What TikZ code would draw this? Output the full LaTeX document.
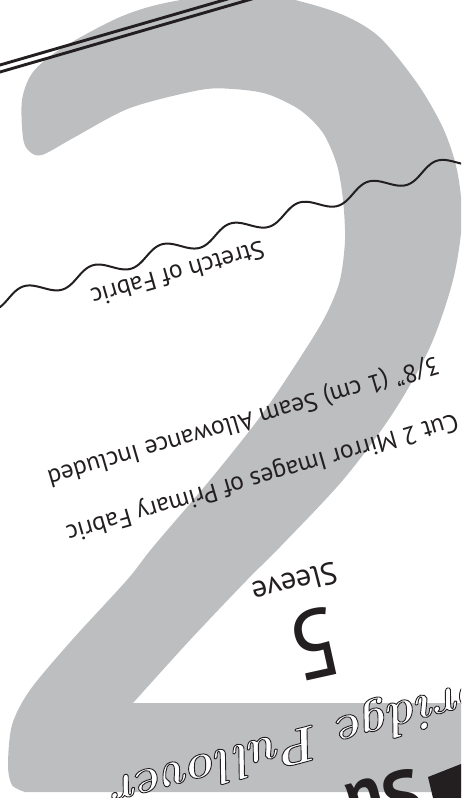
\documentclass[tikz,border=0pt]{standalone}
\usepackage{fontspec}
\newfontfamily\ptsans{PT Sans}
\definecolor{grey2}{RGB}{188,190,192}
\definecolor{ink}{RGB}{35,31,32}
\tikzset{
  lbl/.style={text=ink, inner sep=0pt, font=\ptsans\fontsize{25.5}{25.5}\selectfont},
  dline/.style={draw=ink, line width=2.9pt},
  wave/.style={draw=ink, line width=2pt},
}
\begin{document}
\begin{tikzpicture}[x=1pt,y=-1pt]
\useasboundingbox (0,0) rectangle (461,798);
\clip (0,0) rectangle (461,798);
% big grey numeral
\fill[grey2] plot[smooth, tension=0.5] coordinates {(133,703) (190,640) (247,580) (280,547) (343,480) (393,413) (430,347) (453,280) (462,220) (457,170) (443,128) (417,83) (377,35) (330,10) (250,-8) (170,2) (120,17) (62,48) (33,72) (22,100) (23,138) (29,151) (42,155) (75,137) (130,108) (200,90) (233,89) (267,94) (300,110) (323,133) (337,165) (343,200) (345,240) (340,280) (327,313) (307,347) (263,413) (210,480) (153,547) (127,580) (72,640) (30,690) (12,725) (8,765) (12,785) (25,792)} -- (475,792) -- (475,703) -- cycle;
% double line
\draw[dline] (-5,66.45) -- (240,-4.6);
\draw[dline] (-5,73.45) -- (265,-4.85);
% stretch wave
\begin{scope}[shift={(0,301)}, rotate=16.9]
\draw[wave] plot[domain=-10:495, samples=240, smooth] (\x, {7.2*sin(5*(\x-45))});
\end{scope}
% labels
\node[lbl, rotate=196] (stretch) at (178,274) {Stretch of Fabric};
\node[lbl, rotate=196.3] (seam) at (243,420) {3/8” (1 cm) Seam Allowance Included};
\node[lbl, rotate=196.2] (cut) at (262,476) {Cut 2 Mirror Images of Primary Fabric};
\node[lbl, font=\ptsans\fontsize{31}{31}\selectfont, rotate=194.5] (sleeve) at (295,583) {Sleeve};
\node[lbl, font=\ptsans\fontsize{97}{97}\selectfont, rotate=192.5] (num) at (315,644) {5};
% outlined script title
\node[inner sep=0pt, anchor=east, rotate=195] (title) at (113,791)
  {\color{white}\special{pdf:literal direct 0.137 0.122 0.125 RG 2 Tr 0.9 w}\bfseries\itshape\fontsize{50}{50}\selectfont Cambridge Pullover};
% bold logo letters
\node[inner sep=0pt, anchor=base, rotate=195, text=ink, font=\ptsans\bfseries\fontsize{70}{70}\selectfont] (logo) at (378,777) {Su};
\fill[ink] (428,777) -- (461,764) -- (461,798) -- (433,798) -- cycle;
\end{tikzpicture}
\end{document}
